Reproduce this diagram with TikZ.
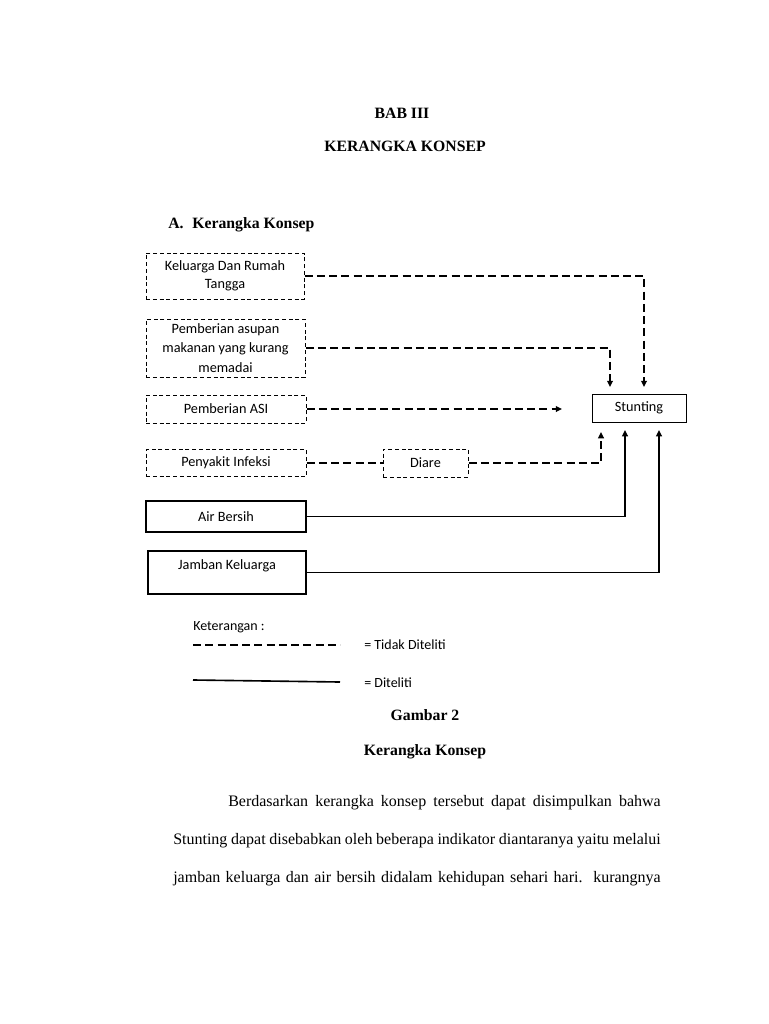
\documentclass[tikz,border=0pt]{standalone}
\usepackage{fontspec}
\setmainfont{Liberation Serif}
\newfontfamily\calibri{Carlito}
\usetikzlibrary{arrows.meta}
\tikzset{
  kotak/.style={draw, line width=1pt, minimum width=128pt, minimum height=22.4pt, inner sep=1pt,
    align=center, font=\calibri\fontsize{11.4pt}{14.4pt}\selectfont},
  putus/.style={kotak, line width=0.8pt, dash pattern=on 3.2pt off 2.2pt},
  tidak/.style={line width=1.5pt, dash pattern=on 6.4pt off 3.4pt},
  teliti/.style={line width=1.3pt},
  panah/.style={-{Triangle[length=5pt,width=4.6pt]}},
  judul/.style={font=\bfseries\fontsize{12.6pt}{14pt}\selectfont},
  ket/.style={anchor=west, inner sep=0pt, font=\calibri\fontsize{11.2pt}{13pt}\selectfont}
}

\begin{document}
\begin{tikzpicture}[x=0.8pt,y=-0.8pt]
  \useasboundingbox[fill=white] (0,0) rectangle (768,1024);
  \node(bab) at (402,113)[judul]{BAB III};
  \node(kk) at (405,146)[judul]{KERANGKA KONSEP};
  \node(sub) at (168,225)[judul,anchor=west,inner sep=0pt]{A.\hspace{7pt}Kerangka Konsep};

  \node(keluarga) at (225,276)[putus,minimum width=126.4pt,minimum height=36.8pt]{Keluarga Dan Rumah\\Tangga};
  \node(asupan) at (225.5,348)[putus,minimum width=127.2pt,minimum height=46.4pt,inner ysep=0pt,
    font=\calibri\fontsize{11.4pt}{15.6pt}\selectfont]{Pemberian asupan\\makanan yang kurang\\memadai};
  \node(asi) at (226,409)[putus]{Pemberian ASI};
  \node(infeksi) at (226,463)[putus,minimum height=21.6pt]{Penyakit Infeksi};
  \node(diare) at (425.5,463)[putus,minimum width=68pt]{Diare};
  \node(air) at (226,516.5)[kotak,minimum height=24.8pt]{Air Bersih};
  \node(jamban) at (227,572.5)[kotak,minimum width=126.4pt,minimum height=34.4pt,text depth=13pt]{Jamban Keluarga};
  \node(stunting) at (639,408)[kotak,line width=0.8pt,minimum width=75.2pt]{Stunting};

  \coordinate(t1) at (644,387);
  \coordinate(t2) at (610,387);
  \coordinate(t3) at (562,409);
  \coordinate(t4) at (601,432);
  \coordinate(t5) at (625,430);
  \coordinate(t6) at (659,430);
  \draw[tidak,panah] (keluarga.east)-|(t1);
  \draw[tidak,panah] (asupan.east)-|(t2);
  \draw[tidak,panah] (asi.east)--(t3);
  \draw[tidak] (infeksi.east)--(diare.west);
  \draw[tidak,panah] (diare.east)-|(t4);
  \draw[teliti,panah] (air.east)-|(t5);
  \draw[teliti,panah] (jamban.east)-|(t6);

  \node(keterangan) at (193,627)[ket]{Keterangan :};
  \node(tdk) at (364,645)[ket]{= Tidak Diteliti};
  \node(dtl) at (364,683)[ket]{= Diteliti};
  \draw[tidak] (193,645)--(340,645);
  \draw[teliti] (193,680)--(340,682);

  \node(gambar) at (425,715)[judul]{Gambar 2};
  \node(kk2) at (425,752)[judul]{Kerangka Konsep};
  \node(isi) at (173,806)[anchor=base west,inner sep=0pt,text width=390pt,align=justify,
    font=\fontsize{12.8pt}{30.4pt}\selectfont]{\hyphenpenalty=10000\hspace*{44pt}Berdasarkan kerangka konsep tersebut dapat disimpulkan bahwa\linebreak Stunting dapat disebabkan oleh beberapa indikator diantaranya yaitu melalui\linebreak jamban keluarga dan air bersih didalam kehidupan sehari hari.\ \ kurangnya\parfillskip=0pt\par};
\end{tikzpicture}
\end{document}
